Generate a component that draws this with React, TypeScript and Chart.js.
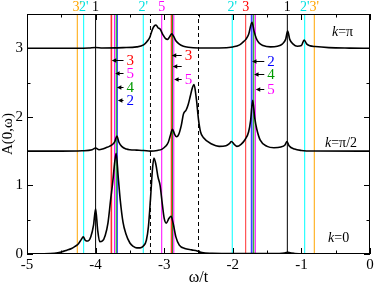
import { useEffect, useRef } from 'react';
import { Chart, registerables } from 'chart.js';

Chart.register(...registerables);

const FONT = "'Liberation Serif', 'DejaVu Serif', serif";

// axis ticks
const xTickValues = [-5, -4, -3, -2, -1, 0];
const yTickValues = [0, 1, 2, 3];
const xMinorStep = 0.5;
const yMinorStep = 0.5;

// k = 0 spectrum (offset 0)
const omegaK0 = [-5, -4.8, -4.6, -4.5, -4.42, -4.35, -4.3, -4.25, -4.21, -4.18, -4.15, -4.11, -4.07, -4.03, -4.0, -3.97, -3.94, -3.9, -3.86, -3.82, -3.78, -3.75, -3.72, -3.70, -3.67, -3.64, -3.6, -3.56, -3.5, -3.45, -3.4, -3.35, -3.3, -3.26, -3.23, -3.2, -3.17, -3.15, -3.12, -3.09, -3.06, -3.03, -3.0, -2.97, -2.93, -2.9, -2.87, -2.83, -2.78, -2.7, -2.6, -2.52, -2.45, -2.3, -2.0, -1.5, -1.28, -1.22, -1.2, -1.18, -1.1, -0.9, -0.5, 0];
const specK0 = [0, 0.003, 0.012, 0.03, 0.055, 0.08, 0.11, 0.15, 0.21, 0.25, 0.2, 0.19, 0.25, 0.42, 0.66, 0.35, 0.18, 0.19, 0.27, 0.45, 0.8, 1.05, 1.35, 1.47, 1.12, 0.78, 0.46, 0.3, 0.16, 0.11, 0.09, 0.09, 0.12, 0.2, 0.4, 0.8, 1.25, 1.40, 1.3, 1.12, 1.0, 0.75, 0.52, 0.45, 0.52, 0.55, 0.45, 0.25, 0.13, 0.08, 0.06, 0.045, 0.02, 0.01, 0.005, 0.005, 0.01, 0.02, 0.03, 0.02, 0.008, 0.003, 0.001, 0];

// k = pi/2 spectrum (offset 1.5)
const omegaKHalf = [-5, -4.5, -4.2, -4.05, -4.0, -3.95, -3.9, -3.85, -3.8, -3.75, -3.72, -3.69, -3.66, -3.62, -3.55, -3.5, -3.4, -3.3, -3.2, -3.1, -3.03, -2.98, -2.94, -2.91, -2.88, -2.85, -2.82, -2.79, -2.75, -2.72, -2.68, -2.65, -2.62, -2.59, -2.565, -2.53, -2.5, -2.47, -2.43, -2.3, -2.2, -2.1, -2.05, -2.02, -1.98, -1.94, -1.88, -1.82, -1.77, -1.74, -1.71, -1.68, -1.65, -1.6, -1.5, -1.4, -1.3, -1.24, -1.21, -1.18, -1.1, -1.0, -0.8, 0];
const specKHalf = [1.5, 1.5, 1.505, 1.52, 1.545, 1.52, 1.53, 1.55, 1.57, 1.6, 1.64, 1.72, 1.63, 1.57, 1.53, 1.52, 1.515, 1.51, 1.5, 1.51, 1.53, 1.57, 1.63, 1.73, 1.82, 1.75, 1.71, 1.74, 1.88, 2.04, 2.1, 2.18, 2.3, 2.42, 2.47, 2.25, 1.96, 1.78, 1.7, 1.6, 1.57, 1.58, 1.61, 1.64, 1.6, 1.57, 1.6, 1.67, 1.78, 1.95, 2.24, 1.98, 1.82, 1.66, 1.57, 1.55, 1.56, 1.59, 1.64, 1.58, 1.53, 1.51, 1.502, 1.5];

// k = pi spectrum (offset 3)
const omegaKPi = [-5, -4.5, -4.1, -4.0, -3.9, -3.6, -3.4, -3.3, -3.25, -3.21, -3.17, -3.14, -3.12, -3.09, -3.06, -3.02, -2.98, -2.95, -2.92, -2.89, -2.86, -2.83, -2.78, -2.72, -2.65, -2.5, -2.2, -2.0, -1.9, -1.84, -1.81, -1.77, -1.72, -1.69, -1.66, -1.62, -1.56, -1.45, -1.35, -1.28, -1.23, -1.2, -1.17, -1.12, -1.06, -1.0, -0.96, -0.92, -0.87, -0.8, -0.6, -0.3, 0];
const specKPi = [3, 3, 3.005, 3.012, 3.005, 3.01, 3.02, 3.05, 3.1, 3.16, 3.28, 3.33, 3.34, 3.3, 3.28, 3.2, 3.14, 3.13, 3.17, 3.21, 3.17, 3.11, 3.06, 3.03, 3.015, 3.005, 3.005, 3.02, 3.05, 3.1, 3.13, 3.2, 3.38, 3.25, 3.15, 3.08, 3.04, 3.02, 3.03, 3.06, 3.13, 3.25, 3.13, 3.06, 3.03, 3.04, 3.12, 3.06, 3.035, 3.025, 3.01, 3.003, 3];

// vertical reference lines
const lineOmega = [-4.267, -4.174, -4.0, -3.77, -3.725, -3.70, -3.685, -3.305, -3.2, -3.036, -2.895, -2.88, -2.86, -2.5, -2.008, -1.812, -1.725, -1.695, -1.672, -1.205, -0.952, -0.812];
const lineColor = ['#ffa500', '#00ffff', '#000000', '#ff3030', '#ff00ff', '#00a000', '#0000ff', '#00ffff', '#000000', '#ff00ff', '#ff3030', '#00a000', '#ff00ff', '#000000', '#00ffff', '#ff3030', '#4040ff', '#00a000', '#ff00ff', '#000000', '#00ffff', '#ffa500'];
const lineDashed = [false, false, false, false, false, false, false, false, true, false, false, false, false, true, false, false, false, false, false, false, false, false];
const lineWidth = [1, 1, 1, 1.6, 1, 1, 1, 1, 1, 1, 1.4, 1, 1, 1, 1, 1, 1.8, 1, 1, 1, 1, 1];
const yTop = 3.5;

// labels on top of the frame
const topLabelText = ["3'", "2'", '1', "2'", '5', "2'", '3', '1', "2'", "3'"];
const topLabelOmega = [-4.267, -4.174, -4.0, -3.305, -3.036, -2.008, -1.812, -1.205, -0.952, -0.812];
const topLabelColor = ['#ffa500', '#00e0e0', '#000000', '#00e0e0', '#ff00ff', '#00e0e0', '#ff0000', '#000000', '#00e0e0', '#ffa500'];

// arrows with labels
const arrowLabel = ['3', '5', '4', '2', '3', '', '5', '2', '4', '5'];
const arrowColor = ['#ff0000', '#ff00ff', '#009a00', '#0000ff', '#ff0000', '#000000', '#ff00ff', '#0000ff', '#009a00', '#ff00ff'];
const arrowTip = [-3.765, -3.715, -3.69, -3.675, -2.89, -2.875, -2.855, -1.72, -1.69, -1.665];
const arrowTail = [-3.593, -3.593, -3.593, -3.593, -2.745, -2.745, -2.745, -1.541, -1.541, -1.541];
const arrowA = [2.83, 2.64, 2.43, 2.24, 2.905, 2.74, 2.55, 2.82, 2.63, 2.41];

// k labels
const kLabelRest = ['=π', '=π/2', '=0'];
const kLabelOmega = [-0.554, -0.656, -0.612];
const kLabelA = [3.24, 1.62, 0.234];

const overlayPlugin = {
  id: 'overlay',
  afterDraw(chart: any) {
    const { ctx, chartArea } = chart;
    const { left, right, top, bottom } = chartArea;
    const xs = chart.scales.x;
    const ys = chart.scales.y;
    ctx.save();
    // frame
    ctx.strokeStyle = '#000';
    ctx.lineWidth = 1;
    ctx.strokeRect(left + 0.5, top + 0.5, right - left - 1, bottom - top - 1);
    // inward ticks
    ctx.beginPath();
    for (let v = xs.min; v <= xs.max + 1e-9; v += xMinorStep) {
      const px = Math.round(xs.getPixelForValue(v)) + 0.5;
      const len = xTickValues.includes(Math.round(v * 100) / 100) ? 6 : 3.5;
      ctx.moveTo(px, bottom);
      ctx.lineTo(px, bottom - len);
      ctx.moveTo(px, top);
      ctx.lineTo(px, top + len);
    }
    for (let v = ys.min; v <= ys.max + 1e-9; v += yMinorStep) {
      const py = Math.round(ys.getPixelForValue(v)) + 0.5;
      const len = yTickValues.includes(Math.round(v * 100) / 100) ? 6 : 3.5;
      ctx.moveTo(left, py);
      ctx.lineTo(left + len, py);
      ctx.moveTo(right, py);
      ctx.lineTo(right - len, py);
    }
    ctx.stroke();

    // top labels
    ctx.font = `14px ${FONT}`;
    ctx.textAlign = 'center';
    ctx.textBaseline = 'alphabetic';
    topLabelText.forEach((t, i) => {
      ctx.fillStyle = topLabelColor[i];
      ctx.fillText(t, xs.getPixelForValue(topLabelOmega[i]), 11);
    });

    // arrows
    arrowLabel.forEach((t, i) => {
      const y = Math.round(ys.getPixelForValue(arrowA[i])) + 0.5;
      const xTail = xs.getPixelForValue(arrowTail[i]);
      const xTip = xs.getPixelForValue(arrowTip[i]);
      ctx.strokeStyle = '#000';
      ctx.fillStyle = '#000';
      ctx.lineWidth = 1;
      ctx.beginPath();
      ctx.moveTo(xTail, y);
      ctx.lineTo(xTip + 3, y);
      ctx.stroke();
      ctx.beginPath();
      ctx.moveTo(xTip, y);
      ctx.lineTo(xTip + 4.5, y - 2.2);
      ctx.lineTo(xTip + 4.5, y + 2.2);
      ctx.closePath();
      ctx.fill();
      if (t) {
        ctx.font = `15px ${FONT}`;
        ctx.textAlign = 'left';
        ctx.textBaseline = 'middle';
        ctx.fillStyle = arrowColor[i];
        ctx.fillText(t, xTail + 3, y + 1);
      }
    });

    // k labels
    kLabelRest.forEach((t, i) => {
      const px = xs.getPixelForValue(kLabelOmega[i]);
      const py = ys.getPixelForValue(kLabelA[i]);
      ctx.fillStyle = '#000';
      ctx.textAlign = 'left';
      ctx.textBaseline = 'middle';
      ctx.font = `italic 14px ${FONT}`;
      ctx.fillText('k', px, py);
      const w = ctx.measureText('k').width;
      ctx.font = `14px ${FONT}`;
      ctx.fillText(t, px + w, py);
    });
    ctx.restore();
  },
};

function curve(omega: number[], spec: number[]) {
  return {
    data: omega.map((w, i) => ({ x: w, y: spec[i] })),
    borderColor: '#000',
    borderWidth: 1.6,
    pointRadius: 0,
    cubicInterpolationMode: 'monotone' as const,
    fill: false,
    order: 0,
  };
}

export default function App() {
  const ref = useRef<HTMLCanvasElement>(null);
  useEffect(() => {
    if (!ref.current) return;
    const vlines = lineOmega.map((w, i) => ({
      data: [
        { x: w, y: 0 },
        { x: w, y: yTop },
      ],
      borderColor: lineColor[i],
      borderWidth: lineWidth[i],
      borderDash: lineDashed[i] ? [4, 3] : [],
      pointRadius: 0,
      fill: false,
      order: 1,
    }));
    const chart = new Chart(ref.current, {
      type: 'line',
      data: {
        datasets: [curve(omegaK0, specK0), curve(omegaKHalf, specKHalf), curve(omegaKPi, specKPi), ...vlines] as any,
      },
      options: {
        animation: false,
        responsive: false,
        devicePixelRatio: 1,
        layout: { padding: { top: 14, right: 4, left: 0, bottom: 0 } },
        plugins: { legend: { display: false }, tooltip: { enabled: false } },
        scales: {
          x: {
            type: 'linear',
            min: -5,
            max: 0,
            grid: { display: false, drawTicks: false },
            border: { display: false },
            ticks: {
              stepSize: 1,
              autoSkip: false,
              maxRotation: 0,
              padding: 2,
              color: '#000',
              font: { family: FONT, size: 15 },
              callback: (v: any) => (xTickValues.includes(v) ? String(v) : ''),
            },
            title: {
              display: true,
              text: 'ω/t',
              color: '#000',
              font: { family: FONT, size: 16, lineHeight: 0.7 },
              padding: 0,
            },
            afterFit: (s: any) => {
              s.height = 29;
              s.paddingLeft = 0;
              s.paddingRight = 0;
            },
          },
          y: {
            type: 'linear',
            min: 0,
            max: yTop,
            grid: { display: false, drawTicks: false },
            border: { display: false },
            ticks: {
              stepSize: 1,
              includeBounds: false,
              padding: 4,
              color: '#000',
              font: { family: FONT, size: 15 },
              callback: (v: any) => (yTickValues.includes(v) ? String(v) : ''),
            },
            title: {
              display: true,
              text: 'A(0,ω)',
              color: '#000',
              font: { family: FONT, size: 15, lineHeight: 1 },
              padding: { top: 1, bottom: 0 },
            },
            afterFit: (s: any) => {
              s.width = 27;
              s.paddingTop = 0;
              s.paddingBottom = 0;
            },
          },
        },
      },
      plugins: [overlayPlugin],
    });
    return () => chart.destroy();
  }, []);
  return (
    <div style={{ position: 'absolute', left: 0, top: 0, width: 374, height: 283, background: '#fff' }}>
      <canvas ref={ref} width={374} height={283} style={{ display: 'block' }} />
    </div>
  );
}
